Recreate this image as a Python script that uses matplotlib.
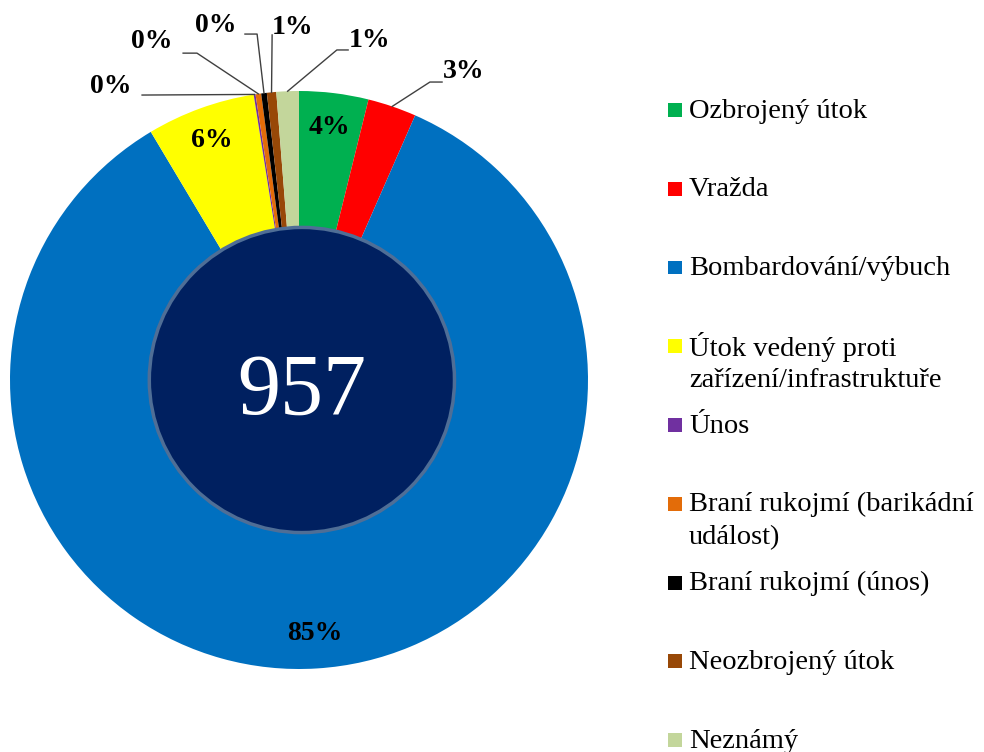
import matplotlib
matplotlib.use("Agg")
import matplotlib.pyplot as plt
import numpy as np
from matplotlib.patches import Circle, Rectangle

categories = ["Ozbrojený útok", "Vražda", "Bombardování/výbuch",
              "Útok vedený proti\nzařízení/infrastruktuře", "Únos",
              "Braní rukojmí (barikádní\nudálost)", "Braní rukojmí (únos)",
              "Neozbrojený útok", "Neznámý"]
counts = [37, 26, 812, 58, 1, 3, 3, 5, 12]
colors = ["#00B050", "#FF0000", "#0070C0", "#FFFF00", "#7030A0",
          "#E36C09", "#000000", "#984807", "#C3D69B"]
total_label = "957"

W, H = 984, 752
fig = plt.figure(figsize=(W / 100, H / 100), dpi=100)
cx, cy, R = 299, 380, 289
ax = fig.add_axes([(cx - R) / W, (H - cy - R) / H, 2 * R / W, 2 * R / H])
wedges, _ = ax.pie(counts, colors=colors, startangle=90, counterclock=False,
                   radius=1, wedgeprops=dict(width=0.5, linewidth=0))
ax.set_xlim(-1, 1)
ax.set_ylim(-1, 1)
ax.axis('off')

ax.add_patch(Circle((0.01, 0), 0.528, facecolor="#002060", edgecolor="#4F6E96",
                    linewidth=2.5, zorder=3))
ax.text(0.01, -0.045, total_label, color="white", family="Liberation Serif",
        fontsize=62, ha="center", va="center", zorder=4)

total = sum(counts)
pct = [f"{round(c / total * 100):.0f}%" for c in counts]
lab_font = dict(family="Liberation Serif", fontweight="bold", fontsize=20,
                color="black")


def mid_point(w, r):
    a = np.deg2rad((w.theta1 + w.theta2) / 2)
    return r * np.cos(a), r * np.sin(a)


# inside labels
for i in (0, 2, 3):
    x, y = mid_point(wedges[i], 0.88)
    ax.text(x, y, pct[i], ha="center", va="center", zorder=5, **lab_font)

# outside labels: text center, start of leader, elbow
outside = {
    1: ((0.570, 1.066), (0.495, 1.031), (0.453, 1.031)),
    8: ((0.245, 1.176), (0.170, 1.142), (0.131, 1.142)),
    7: ((-0.021, 1.221), (-0.093, 1.194), (-0.093, 1.194)),
    6: ((-0.287, 1.228), (-0.187, 1.197), (-0.145, 1.197)),
    5: ((-0.509, 1.170), (-0.401, 1.131), (-0.353, 1.131)),
    4: ((-0.650, 1.017), (-0.543, 0.986), (-0.543, 0.986)),
}
for i, (tpos, start, elbow) in outside.items():
    ex, ey = mid_point(wedges[i], 1.0)
    ax.plot([start[0], elbow[0], ex], [start[1], elbow[1], ey],
            color="#404040", lw=1, clip_on=False, zorder=5)
    ax.text(tpos[0], tpos[1], pct[i], ha="center", va="center", zorder=5,
            **lab_font)

# legend
y0, step, line_h = 110, 78.75, 33
for k, (cat, col) in enumerate(zip(categories, colors)):
    yc = y0 + k * step
    fig.patches.append(Rectangle((668 / W, 1 - (yc + 7) / H), 14 / W, 14 / H,
                                 facecolor=col, edgecolor="none",
                                 transform=fig.transFigure, figure=fig))
    for j, line in enumerate(cat.split("\n")):
        fig.text(689 / W, 1 - (yc + 1 + j * line_h) / H, line,
                 family="Liberation Serif", fontsize=20.5, ha="left",
                 va="center", color="black")

fig.savefig("out.png", dpi=100)
